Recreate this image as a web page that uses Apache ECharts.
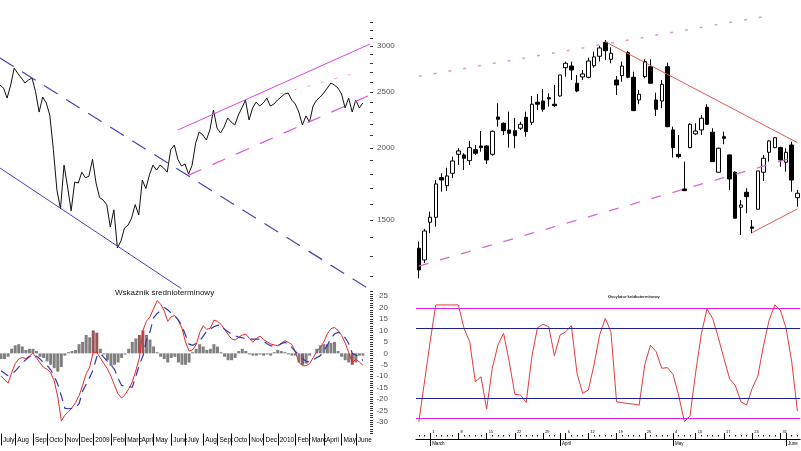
<!DOCTYPE html>
<html>
<head>
    <meta charset="utf-8">
    <title>WIG20</title>
    <script src="https://cdn.jsdelivr.net/npm/echarts@6/dist/echarts.min.js"></script>
    <style>
        html, body { margin: 0; padding: 0; background-color: #fff; }
    </style>
</head>
<body>
<div id="chart-box" style="width:801px; height:451px;"></div>
<script type="text/javascript">
    // ---- left panels: weekly, July 2008 - June 2010 ----
    const monthNames = ["January", "February", "March", "April", "May", "June", "July",
        "August", "September", "October", "November", "December"];
    const weekCount = 105;
    const priceWeekly = [
        2568, 2537, 2438, 2568, 2748, 2690, 2641, 2589, 2620, 2641,
        2500, 2306, 2448, 2391, 2279, 1985, 1690, 1568, 1867, 1711,
        1556, 1745, 1738, 1815, 1775, 1786, 1910, 1738, 1640, 1624,
        1595, 1459, 1562, 1342, 1380, 1453, 1470, 1512, 1595, 1530,
        1759, 1700, 1795, 1867, 1830, 1867, 1845, 1815, 1985, 2022,
        1910, 1860, 1875, 1801, 1867, 2038, 2130, 2105, 2063, 2147,
        2325, 2164, 2121, 2173, 2252, 2216, 2190, 2279, 2344, 2419,
        2234, 2344, 2400, 2362, 2391, 2438, 2362, 2381, 2419, 2448,
        2478, 2488, 2419, 2381, 2306, 2190, 2270, 2216, 2362, 2419,
        2448, 2488, 2537, 2589, 2568, 2537, 2478, 2344, 2438, 2306,
        2419, 2344, 2391
    ];
    const midRed = [
        -9.8, -11.5, -13, -8.5, -4.5, -2.5, -1.8, -2.3, -1.2, 0.2,
        -2, -4.2, -6.1, -7, -8.5, -12, -19, -29.5, -27, -25.5,
        -23.8, -21.5, -18.5, -14, -9, -6, 0.5, 0.4, -2, -4.5,
        -6.8, -10, -14, -17.8, -19.5, -18, -15.5, -12.5, -7.6, -2,
        10, 14, 16, 19.5, 23, 21.5, 18.5, 14, 16, 16.5,
        14.3, 11, 5, 1, 1.5, 3.8, 9, 12, 10.5, 11,
        14.5, 14, 12.7, 10.5, 8.2, 6.3, 5.8, 7, 8, 8.4,
        6.5, 4.8, 6.5, 7.5, 6, 5, 4.1, 3.7, 3.3, 4.5,
        5.5, 4.8, 3.8, 0.4, -4, -5.4, -5.4, -4.5, -1.8, 0.8,
        2.5, 5, 8.6, 10.8, 11.3, 10, 7.9, 4.5, 0.5, -4,
        -2.6, -3.8, -5.2
    ];
    const midBlue = [
        -7.6, -8.7, -9.8, -9, -7.8, -6, -4.2, -2.8, -1.5, -0.5,
        -1.2, -2.5, -4, -5.2, -7.2, -10, -13.5, -18.5, -24, -24.2,
        -24, -23.8, -22, -16.5, -13.5, -10.5, -7, -1.5, 0, -1.8,
        -3.5, -5.2, -7, -11, -14, -14.4, -14.6, -14.8, -10, -5,
        -1.2, 5.8, 9.5, 15.5, 17.4, 18.7, 20, 19, 17.5, 16.4,
        14.5, 12, 8, 4, 3.5, 4.3, 5.5, 7.5, 9.8, 10.6,
        11.6, 12.2, 12.5, 10.5, 9.4, 8.5, 7.7, 7.1, 6.8, 6.4,
        6.2, 6.2, 6.2, 6.2, 5.2, 4.2, 3.3, 3.3, 3.3, 4.2,
        4.8, 4.2, 2.5, 0.8, -0.8, -2.4, -3.5, -3.8, -2.8, -1.8,
        -1, 1.3, 3.6, 6.5, 8.5, 9.1, 8.6, 6.8, 4.3, 0,
        -0.7, -1.3, -3.2
    ];
    const midHist = [
        -2.5, -2.5, -1.5, 2, 3.5, 4, 3, 1.5, 2, 2,
        1, -1.5, -2, -3.5, -5, -6.5, -8, -6, -1, 0.5,
        1, 1.5, 4, 5, 8, 7, 10, 9, 2, -0.5,
        -3, -5.5, -5, -4, -2, -0.5, 2, 5, 6.5, 8,
        10, 8, 6, 3, 0.5, -1.5, -2.5, -4, -2, -1.5,
        -4, -5, -5, -4, 0.5, 2, 4, 3, 1.5, 2,
        4, 3, 0.5, -1.5, -3, -3, -2, 1, 2, 1,
        -0.5, -1, -1, -0.5, -1, -0.5, -1, 0.5, 1.5, 1,
        0.5, -0.5, -1, -1, -4, -5, -4.5, -1, 0, 2,
        3.5, 4, 4, 4.5, 5, 1, -1.5, -3, -4, -5,
        -4, -1, -1
    ];
    const histRedWeeks = [26, 27, 39, 40, 85, 99];
    const priceLabels = [1500, 2000, 2500, 3000];
    const priceTicks = [1200, 1300, 1400, 1500, 1600, 1700, 1800, 1900, 2000, 2100, 2200,
        2300, 2400, 2500, 2600, 2700, 2800, 2900, 3000, 3100, 3200, 3300];
    // trend lines: [week index, price]
    const downResist = [[0, 2860], [103, 1147]];
    const downSupport = [[0, 1845], [51, 1141]];
    const upResist = [[50, 2147], [104, 3024]];
    const upSupport = [[53, 1794], [104, 2468]];
    const upMiddle = [[75, 2443], [101, 2705]];

    // ---- right panels: daily, 25 Feb - 4 Jun 2010 ----
    const dayFirst = "2010-02-25";
    const dayLast = "2010-06-04";
    const holidays = ["2010-04-02", "2010-04-05", "2010-05-03", "2010-06-03"];
    // [open, close, low, high]
    const candles = [
        [2266.7, 2237.2, 2225.9, 2275.6], [2250.8, 2290.1, 2246.7, 2292.9],
        [2301.9, 2308.7, 2287.0, 2316.3], [2308.7, 2353.9, 2296.0, 2359.3],
        [2362.5, 2359.3, 2343.5, 2368.4], [2351.6, 2364.8, 2344.4, 2376.0],
        [2368.4, 2385.1, 2361.7, 2391.0], [2394.2, 2398.7, 2379.7, 2402.4],
        [2393.3, 2388.8, 2372.9, 2395.6], [2385.5, 2403.2, 2379.7, 2412.3],
        [2400.5, 2395.6, 2393.3, 2406.8], [2405.5, 2403.2, 2397.7, 2425.8],
        [2405.5, 2386.5, 2381.1, 2406.8], [2394.2, 2425.4, 2392.3, 2426.5],
        [2444.8, 2441.7, 2431.7, 2463.4], [2436.3, 2426.2, 2420.4, 2437.4],
        [2427.2, 2422.7, 2403.2, 2452.0], [2426.2, 2419.4, 2402.4, 2443.5],
        [2429.5, 2434.9, 2427.2, 2438.4], [2444.4, 2424.9, 2418.1, 2452.0],
        [2437.6, 2462.1, 2434.0, 2473.3], [2464.8, 2462.1, 2454.3, 2476.0],
        [2466.5, 2455.3, 2452.0, 2482.8], [2471.0, 2469.3, 2458.8, 2477.0],
        [2462.1, 2460.2, 2458.4, 2488.3], [2473.3, 2501.8, 2472.4, 2501.8],
        [2511.7, 2517.7, 2499.5, 2519.9], [2514.0, 2508.6, 2495.0, 2519.9],
        [2490.6, 2480.1, 2478.4, 2501.8], [2499.1, 2503.2, 2495.0, 2508.6],
        [2498.7, 2520.8, 2497.3, 2525.3], [2514.4, 2526.3, 2511.7, 2533.4],
        [2527.2, 2538.5, 2519.9, 2541.6], [2546.2, 2534.8, 2522.2, 2549.3],
        [2523.1, 2531.3, 2517.7, 2539.4], [2495.0, 2488.3, 2474.7, 2500.5],
        [2500.9, 2514.0, 2492.7, 2519.9], [2532.1, 2498.7, 2497.3, 2534.4],
        [2498.7, 2453.4, 2453.4, 2506.3], [2467.9, 2475.6, 2462.1, 2481.5],
        [2499.5, 2519.9, 2497.3, 2523.1], [2513.1, 2490.6, 2490.6, 2523.1],
        [2467.9, 2455.3, 2446.2, 2477.8], [2466.5, 2489.2, 2456.6, 2495.0],
        [2513.1, 2431.7, 2430.9, 2518.5], [2427.2, 2403.2, 2389.6, 2431.7],
        [2394.2, 2391.0, 2388.8, 2420.4], [2347.1, 2344.8, 2344.4, 2384.2],
        [2403.2, 2434.9, 2402.4, 2436.3], [2421.8, 2425.8, 2420.4, 2436.3],
        [2427.2, 2443.1, 2420.4, 2447.5], [2458.0, 2434.9, 2434.0, 2462.1],
        [2424.1, 2384.2, 2384.2, 2429.5], [2369.8, 2402.4, 2369.8, 2403.2],
        [2418.1, 2415.9, 2407.8, 2424.9], [2393.3, 2360.7, 2345.8, 2394.2],
        [2369.8, 2307.4, 2307.4, 2371.0], [2322.3, 2325.4, 2284.7, 2332.2],
        [2342.6, 2336.7, 2314.2, 2348.1], [2295.6, 2293.8, 2287.0, 2305.1],
        [2319.6, 2371.6, 2319.6, 2371.6], [2369.8, 2388.8, 2358.0, 2393.3],
        [2396.9, 2412.3, 2384.2, 2413.6], [2403.2, 2416.7, 2402.4, 2417.7],
        [2403.2, 2386.5, 2377.4, 2404.5], [2383.4, 2396.9, 2370.6, 2402.4],
        [2406.8, 2359.3, 2343.5, 2411.3], [2335.3, 2341.3, 2323.1, 2345.8]
    ];
    const oscillator = [
        0, 34, 68.5, 100, 100, 100, 100, 100, 80, 68.5,
        34.2, 38.5, 10.8, 45.7, 65.6, 75.7, 51.3, 23.4, 22.8, 16.5,
        55.6, 80.5, 83.4, 81.3, 56.5, 74.2, 77, 82.2, 41.4, 24.2,
        27.1, 48.5, 74.2, 88.5, 77, 17.1, 16.2, 15.6, 15, 14.2,
        49, 65.6, 59.9, 45.7, 46.3, 40.5, 22.2, 0, 5, 42.2,
        75.3, 96.5, 88.5, 72.2, 54.2, 36.8, 31.1, 17.1, 14.2, 28.5,
        39, 65, 87, 100, 95.4, 80, 51.3, 9.1
    ];
    const oscLevels = [97, 80, 20, 3];
    // trend lines: [day index, price]
    const peakLine = [[33, 2547], [67, 2410]];
    const lowLine = [[59, 2288], [67, 2320]];
    const topDotted = [[0, 2500], [61, 2581]];
    const bottomDashed = [[0, 2242.5], [67, 2391.5]];

    // week categories and month marks
    const weekMs = 7 * 864e5;
    const weekStart = Date.UTC(2008, 6, 1);
    const weeks = [];
    for (let i = 0; i < weekCount; i++) {
        weeks.push(new Date(weekStart + i * weekMs).toISOString().slice(0, 10));
    }
    const monthAt = {};
    for (let k = 0; k < 24; k++) {
        const y = 2008 + Math.floor((6 + k) / 12), m = (6 + k) % 12;
        const idx = Math.round((Date.UTC(y, m, 1) - weekStart) / weekMs);
        monthAt[idx] = m === 0 ? String(y) : monthNames[m];
    }

    // trading days
    const days = [];
    for (let t = Date.parse(dayFirst); t <= Date.parse(dayLast); t += 864e5) {
        const d = new Date(t), s = d.toISOString().slice(0, 10), w = d.getUTCDay();
        if (w === 0 || w === 6 || holidays.indexOf(s) > -1) continue;
        days.push(s);
    }
    const monthFirst = days.map((s, i) => i > 0 && s.slice(5, 7) !== days[i - 1].slice(5, 7));
    const weekFirst = days.map((s, i) => i > 0 &&
        new Date(s).getUTCDay() < new Date(days[i - 1]).getUTCDay());

    const font = "Liberation Sans";
    const narrow = "'Liberation Sans Narrow', 'Liberation Sans', Arial";

    function trend(data, xi, yi, color, type, width) {
        return {
            type: "line", xAxisIndex: xi, yAxisIndex: yi, data: data,
            symbol: "none", silent: true,
            lineStyle: { color: color, type: type, width: width }
        };
    }

    const chart = echarts.init(document.getElementById("chart-box"));
    const option = {
        animation: false,
        backgroundColor: "#fff",
        title: [
            {
                text: "Wskaźnik średnioterminowy", left: 115, top: 289, padding: 0,
                textStyle: { fontSize: 8, fontWeight: "normal", color: "#111", fontFamily: narrow }
            },
            {
                text: "Oscylator krótkoterminowy", left: 608, top: 295, padding: 0,
                textStyle: { fontSize: 4, fontWeight: "bold", color: "#222", fontFamily: narrow }
            }
        ],
        grid: [
            { left: 0, top: 14.6, width: 370, height: 274.3 },
            { left: 0, top: 291.5, width: 370, height: 142 },
            { left: 416, top: 10, width: 384.2, height: 280 },
            { left: 416, top: 302.6, width: 384.2, height: 121.4 }
        ],
        xAxis: [
            { gridIndex: 0, type: "category", data: weeks, boundaryGap: false, show: false },
            {
                gridIndex: 1, type: "category", data: weeks, boundaryGap: false,
                axisLine: { show: false, onZero: false },
                axisTick: {
                    show: true, interval: i => i in monthAt, length: 12,
                    lineStyle: { color: "#000", width: 1 }
                },
                axisLabel: {
                    interval: i => i in monthAt,
                    formatter: (v, i) => monthAt[i] || "",
                    fontSize: 6.5, fontFamily: font, color: "#000",
                    align: "left", margin: 3, padding: [0, 0, 0, 2],
                    width: 16, overflow: "truncate", ellipsis: ""
                }
            },
            { gridIndex: 2, type: "category", data: days, boundaryGap: true, show: false },
            {
                gridIndex: 3, type: "category", data: days, boundaryGap: true,
                position: "bottom", offset: 15,
                axisLine: { onZero: false, lineStyle: { color: "#000", width: 1 } },
                axisTick: {
                    show: true, alignWithLabel: true, inside: true, length: 6,
                    interval: i => weekFirst[i] || monthFirst[i],
                    lineStyle: { color: "#000" }
                },
                axisLabel: {
                    interval: i => monthFirst[i],
                    formatter: v => monthNames[Number(v.slice(5, 7)) - 1],
                    fontSize: 4.5, fontFamily: font, color: "#000",
                    align: "left", margin: 2, padding: [0, 0, 0, 2]
                }
            },
            {
                gridIndex: 3, type: "category", data: days, boundaryGap: true,
                position: "bottom", offset: 15,
                axisLine: { show: false, onZero: false },
                axisTick: {
                    show: true, alignWithLabel: true, length: 7,
                    interval: i => monthFirst[i],
                    lineStyle: { color: "#000" }
                },
                axisLabel: { show: false }
            },
            {
                gridIndex: 3, type: "category", data: days, boundaryGap: true,
                position: "bottom", offset: 11,
                axisLine: { show: false, onZero: false },
                axisTick: {
                    show: true, alignWithLabel: true, length: 1.5, interval: 0,
                    lineStyle: { color: "#000" }
                },
                axisLabel: {
                    inside: true, interval: i => weekFirst[i],
                    formatter: v => String(Number(v.slice(8, 10))),
                    fontSize: 4, fontFamily: font, color: "#000",
                    align: "left", margin: 1, padding: [0, 0, 0, 2]
                }
            }
        ],
        yAxis: [
            { gridIndex: 0, type: "log", min: 1140, max: 3400, show: false },
            {
                gridIndex: 0, type: "value", position: "right",
                min: Math.log(1140), max: Math.log(3400),
                axisLine: { show: false }, splitLine: { show: false },
                axisTick: {
                    show: true, length: 3, customValues: priceTicks.map(Math.log),
                    lineStyle: { color: "#333" }
                },
                axisLabel: {
                    customValues: priceLabels.map(Math.log),
                    formatter: v => String(Math.round(Math.exp(v))),
                    fontSize: 8, fontFamily: font, color: "#555", margin: 7
                }
            },
            {
                gridIndex: 1, type: "value", position: "right",
                min: -35, max: 27, interval: 1,
                axisLine: { show: false }, splitLine: { show: false },
                axisTick: { show: true, length: 3, lineStyle: { color: "#333" } },
                axisLabel: {
                    formatter: v => (v % 5 === 0 && v >= -30 && v <= 25) ? String(v) : "",
                    fontSize: 8, fontFamily: font, color: "#555", align: "right", margin: 18
                }
            },
            { gridIndex: 2, type: "value", min: 2210, max: 2590, show: false },
            { gridIndex: 3, type: "value", min: -2, max: 102, show: false }
        ],
        series: [
            {
                type: "line", xAxisIndex: 0, yAxisIndex: 0, data: priceWeekly,
                symbol: "none", lineStyle: { color: "#111", width: 1 }
            },
            trend(downResist, 0, 0, "#4444b8", [16, 10], 1.2),
            trend(downSupport, 0, 0, "#4444b8", "solid", 1),
            trend(upResist, 0, 0, "#dd44dd", "solid", 1),
            trend(upSupport, 0, 0, "#dd55dd", [14, 12], 1.2),
            trend(upMiddle, 0, 0, "#e6a6e6", [3, 11], 1),
            {
                type: "bar", xAxisIndex: 1, yAxisIndex: 2, barWidth: 3,
                data: midHist.map((v, i) => histRedWeeks.indexOf(i) > -1
                    ? { value: v, itemStyle: { color: "#9a5656" } } : v),
                itemStyle: { color: "#808080" }
            },
            {
                type: "line", xAxisIndex: 1, yAxisIndex: 2, data: midRed,
                symbol: "none", lineStyle: { color: "#e52a2a", width: 1 }
            },
            {
                type: "line", xAxisIndex: 1, yAxisIndex: 2, data: midBlue,
                symbol: "none", lineStyle: { color: "#3535b5", width: 1.2, type: [9, 6] }
            },
            {
                type: "candlestick", xAxisIndex: 2, yAxisIndex: 3, data: candles,
                barWidth: 4,
                itemStyle: {
                    color: "#fff", color0: "#000",
                    borderColor: "#000", borderColor0: "#000", borderWidth: 1
                }
            },
            trend(topDotted, 2, 3, "#d99ad9", [3, 12], 1.5),
            trend(bottomDashed, 2, 3, "#d36ad3", [10, 12], 1.3),
            trend(peakLine, 2, 3, "#e05a5a", "solid", 1),
            trend(lowLine, 2, 3, "#e05a5a", "solid", 1),
            {
                type: "line", xAxisIndex: 3, yAxisIndex: 4, data: oscillator,
                symbol: "none", lineStyle: { color: "#e53a3a", width: 1 },
                markLine: {
                    silent: true, symbol: "none", label: { show: false },
                    data: oscLevels.map((v, k) => ({
                        yAxis: v,
                        lineStyle: {
                            color: (k === 0 || k === 3) ? "#e020e0" : "#1e1e8c",
                            width: 1.2, type: "solid"
                        }
                    }))
                }
            }
        ]
    };
    chart.setOption(option);
</script>
</body>
</html>
